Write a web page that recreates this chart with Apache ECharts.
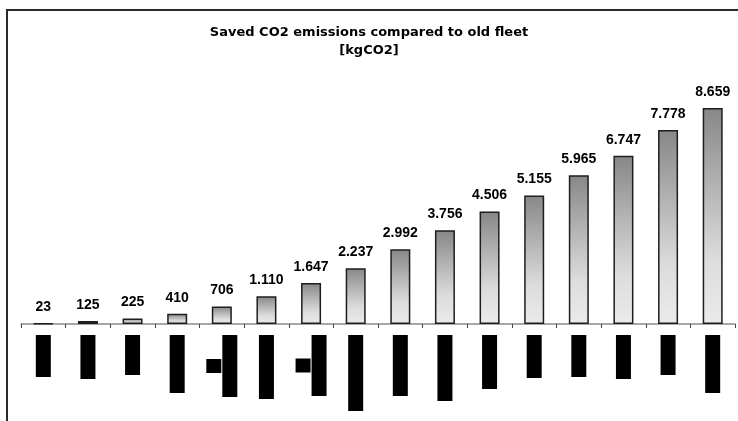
<!DOCTYPE html>
<html>
<head>
<meta charset="utf-8">
<script src="https://cdn.jsdelivr.net/npm/echarts@6/dist/echarts.min.js"></script>
<style>
  html, body { margin: 0; padding: 0; background: #fff; }
  #frame {
    position: absolute; left: 6px; top: 9px; width: 740px; height: 420px;
    border-left: 2px solid #2b2b2b; border-top: 2px solid #2b2b2b;
    pointer-events: none;
  }
  #chart { position: absolute; left: 0; top: 0; width: 738px; height: 421px; }
</style>
</head>
<body>
<div id="frame"></div>
<div id="chart"></div>
<script>
// Periods on the x axis (their printed names are blacked out)
const periods = ['1', '2', '3', '4', '5', '6', '7', '8', '9', '10', '11', '12', '13', '14', '15', '16'];
// Saved CO2 per period, kgCO2
const savedCO2 = [23, 125, 225, 410, 706, 1110, 1647, 2237, 2992, 3756, 4506, 5155, 5965, 6747, 7778, 8659];

// Heights of the black boxes covering each axis label
const coverHeights = [42, 44, 40, 58, 62, 64, 61, 76, 61, 66, 54, 43, 42, 44, 40, 58];
// Periods whose label has a second, short covered line to the left
const doubleLine = [4, 6];

function fmtThousands(v) {
  if (v < 1000) return String(v);
  const k = Math.floor(v / 1000);
  const r = String(v % 1000).padStart(3, '0');
  return k + '.' + r;
}

const rich = {
  s: { width: 15, height: 14, backgroundColor: '#000', verticalAlign: 'middle', fontSize: 1 },
  g: { width: 1, height: 14, verticalAlign: 'middle', fontSize: 1 }
};
coverHeights.forEach(function (h, i) {
  rich['b' + i] = { width: 15, height: h, backgroundColor: '#000', verticalAlign: 'middle', fontSize: 1 };
});

const chart = echarts.init(document.getElementById('chart'), null, { renderer: 'canvas' });
chart.setOption({
  backgroundColor: 'transparent',
  animation: false,
  title: {
    text: 'Saved CO2 emissions compared to old fleet\n[kgCO2]',
    left: 'center',
    top: 24,
    padding: 0,
    textStyle: {
      fontFamily: 'DejaVu Sans',
      fontWeight: 'bold',
      fontSize: 13,
      lineHeight: 18,
      color: '#000'
    }
  },
  grid: { left: 21, right: 3, top: 74.5, bottom: 97, containLabel: false },
  xAxis: {
    type: 'category',
    data: periods,
    axisLine: { lineStyle: { color: '#8a8a8a', width: 1.5 } },
    axisTick: { show: true, alignWithLabel: false, length: 4, lineStyle: { color: '#444', width: 1 } },
    axisLabel: {
      interval: 0,
      margin: 11,
      hideOverlap: false,
      formatter: function (value, idx) {
        const box = '{b' + idx + '| }';
        return doubleLine.indexOf(idx) >= 0 ? '{s| }{g| }' + box : box;
      },
      rich: rich
    }
  },
  yAxis: {
    type: 'value',
    min: 0,
    max: 10000,
    show: false,
    splitLine: { show: false }
  },
  series: [{
    type: 'bar',
    data: savedCO2,
    barWidth: 20,
    itemStyle: {
      color: new echarts.graphic.LinearGradient(0, 0, 0, 1, [
        { offset: 0, color: '#878787' },
        { offset: 0.7, color: '#dcdcdc' },
        { offset: 1, color: '#ebebeb' }
      ]),
      borderColor: '#1e1e1e',
      borderWidth: 1.5
    },
    label: {
      show: true,
      position: 'top',
      distance: 9,
      fontFamily: 'Liberation Sans',
      fontWeight: 'bold',
      fontSize: 14,
      color: '#000',
      formatter: function (p) { return fmtThousands(p.value); }
    }
  }]
});
</script>
</body>
</html>
